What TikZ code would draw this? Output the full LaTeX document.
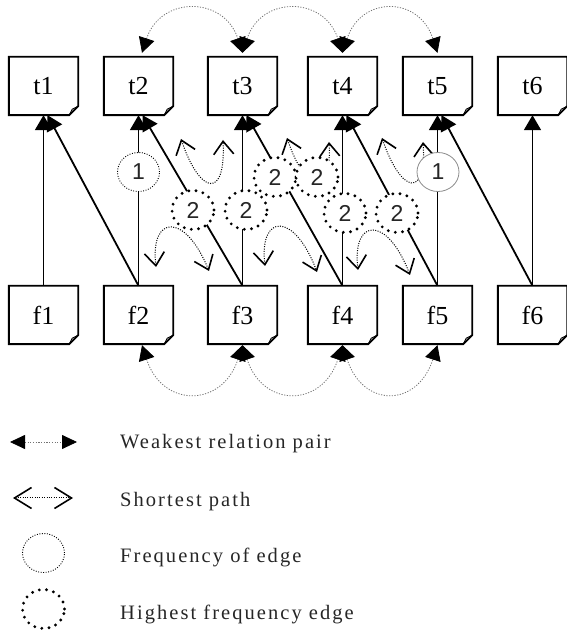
\documentclass[tikz,border=0pt]{standalone}
\usepackage{fontspec}
\setmainfont{Liberation Serif}
\newfontfamily\numfont{Liberation Sans}
\newfontfamily\legfont[LetterSpace=10]{Liberation Serif}
\usetikzlibrary{arrows.meta,shapes.geometric}
\begin{document}
\begin{tikzpicture}[x=1pt,y=1pt,
 doc/.style={rectangle,minimum width=69pt,minimum height=58pt,inner sep=0pt,font=\fontsize{26}{30}\selectfont},
 boxline/.style={line width=1.9pt,line join=miter},
 flap/.style={line width=0.9pt,line join=round},
 edge/.style={line width=1.8pt,-{Triangle[length=15pt,width=17pt]}},
 wrp/.style={draw=black!55,line width=0.8pt,dash pattern=on 1.2pt off 1.5pt,
   {Triangle[length=15pt,width=16pt,color=black]}-{Triangle[length=15pt,width=16pt,color=black]}},
 lwrp/.style={draw=black!55,line width=0.8pt,dash pattern=on 1.2pt off 1.5pt,
   {Triangle[length=15pt,width=14pt,color=black]}-{Triangle[length=15pt,width=14pt,color=black]}},
 sp/.style={draw=black,line width=1pt,dash pattern=on 1pt off 1.4pt,
   {Straight Barb[length=13pt,width=20pt,line width=1.6pt]}-{Straight Barb[length=13pt,width=20pt,line width=1.6pt]}},
 lsp/.style={draw=black,line width=1pt,dash pattern=on 1pt off 1.4pt,
   {Straight Barb[length=17pt,width=21pt,line width=1.6pt]}-{Straight Barb[length=17pt,width=21pt,line width=1.6pt]}},
 numtxt/.style={font=\numfont\fontsize{23}{23}\selectfont,text=black!85},
 freq/.style={ellipse,minimum width=42pt,minimum height=39pt,inner sep=0pt,fill=white,draw=black,
   line width=0.9pt,dash pattern=on 0.9pt off 1.6pt,numtxt},
 hfreq/.style={ellipse,minimum width=42pt,minimum height=39pt,inner sep=0pt,fill=white,draw=black,
   line width=3.2pt,line cap=round,dash pattern=on 0pt off 7.2pt,numtxt},
 sfreq/.style={ellipse,minimum width=42pt,minimum height=39pt,inner sep=0pt,fill=white,draw=black!45,
   line width=0.8pt,numtxt},
 legtext/.style={anchor=base west,inner sep=0pt,font=\legfont\fontsize{20.5}{24}\selectfont,text=black!85}
]
\useasboundingbox (0,0) rectangle (566,630);
% boxes
\node[doc] (t1) at (43.5,544) {t1};
\node[doc] (t2) at (138.5,544) {t2};
\node[doc] (t3) at (242.5,544) {t3};
\node[doc] (t4) at (342.5,544) {t4};
\node[doc] (t5) at (437.5,544) {t5};
\node[doc] (t6) at (532.5,544) {t6};
\node[doc] (f1) at (43.5,315) {f1};
\node[doc] (f2) at (138.5,315) {f2};
\node[doc] (f3) at (242.5,315) {f3};
\node[doc] (f4) at (342.5,315) {f4};
\node[doc] (f5) at (437.5,315) {f5};
\node[doc] (f6) at (532.5,315) {f6};
% edges
\draw[edge] (f1.north) -- (t1.south);
\draw[edge] (f2.north) -- ([xshift=4pt]t1.south);
\draw[edge] (f2.north) -- (t2.south);
\draw[edge] (f3.north) -- ([xshift=4pt]t2.south);
\draw[edge] (f3.north) -- (t3.south);
\draw[edge] (f4.north) -- ([xshift=4pt]t3.south);
\draw[edge] (f4.north) -- (t4.south);
\draw[edge] (f5.north) -- ([xshift=4pt]t4.south);
\draw[edge] (f5.north) -- (t5.south);
\draw[edge] (f6.north) -- ([xshift=4pt]t5.south);
\draw[edge] (f6.north) -- (t6.south);
% box outlines
\foreach \n in {t1,t2,t3,t4,t5,t6,f1,f2,f3,f4,f5,f6}{
  \draw[boxline] (\n.north west) -- (\n.north east) -- ([yshift=9pt]\n.south east)
    -- ([xshift=-9pt]\n.south east) -- (\n.south west) -- cycle;
  \draw[flap] ([xshift=-9pt]\n.south east) -- ([xshift=-6pt,yshift=6pt]\n.south east) -- ([yshift=9pt]\n.south east);
}
% weakest relation pairs
\draw[wrp] ([xshift=3.5pt,yshift=4pt]t2.north) to[out=72,in=108,distance=60pt] ([yshift=4pt]t3.north);
\draw[wrp] ([yshift=4pt]t3.north) to[out=72,in=108,distance=60pt] ([yshift=4pt]t4.north);
\draw[wrp] ([yshift=4pt]t4.north) to[out=72,in=108,distance=60pt] ([yshift=4pt]t5.north);
\draw[wrp] ([xshift=3.5pt,yshift=-1pt]f2.south) to[out=-72,in=-108,distance=66pt] ([yshift=-1pt]f3.south);
\draw[wrp] ([yshift=-1pt]f3.south) to[out=-72,in=-108,distance=66pt] ([yshift=-1pt]f4.south);
\draw[wrp] ([yshift=-1pt]f4.south) to[out=-72,in=-108,distance=66pt] ([yshift=-1pt]f5.south);
% shortest paths
\coordinate (s1a) at (181,491); \coordinate (s1b) at (223,490);
\coordinate (s2a) at (287,492); \coordinate (s2b) at (329,488);
\coordinate (s3a) at (382,492); \coordinate (s3b) at (423,488);
\coordinate (s4a) at (156,363); \coordinate (s4b) at (209,359);
\coordinate (s5a) at (265,364); \coordinate (s5b) at (317,358);
\coordinate (s6a) at (358,360); \coordinate (s6b) at (410,355);
\draw[sp] (s1a) .. controls (200,435) and (226,430) .. (s1b);
\draw[sp] (s2a) .. controls (306,436) and (332,431) .. (s2b);
\draw[sp] (s3a) .. controls (401,436) and (427,431) .. (s3b);
\draw[sp] (s4a) .. controls (150,415) and (185,418) .. (s4b);
\draw[sp] (s5a) .. controls (259,416) and (294,419) .. (s5b);
\draw[sp] (s6a) .. controls (352,412) and (387,415) .. (s6b);
% frequency labels
\node[freq]  (c1) at (138.5,458) {1};
\node[hfreq] (c2) at (193,420) {2};
\node[hfreq] (c3) at (246,420) {2};
\node[hfreq] (c4) at (275,453) {2};
\node[hfreq] (c5) at (317,453) {2};
\node[hfreq] (c6) at (345,417) {2};
\node[hfreq] (c7) at (397,417) {2};
\node[sfreq] (c8) at (438,458) {1};
% legend
\coordinate (w1) at (10,188); \coordinate (w2) at (77,188);
\draw[lwrp] (w1) -- (w2);
\coordinate (p1) at (13,132); \coordinate (p2) at (73,132);
\draw[lsp] (p1) -- (p2);
\node[freq] (lf) at (43.5,77) {};
\node[hfreq] (lh) at (43.5,21) {};
\node[legtext] (lt1) at (120,181) {Weakest relation pair};
\node[legtext] (lt2) at (120,123) {Shortest path};
\node[legtext] (lt3) at (120,67) {Frequency of edge};
\node[legtext] (lt4) at (120,10) {Highest frequency edge};
\end{tikzpicture}
\end{document}
